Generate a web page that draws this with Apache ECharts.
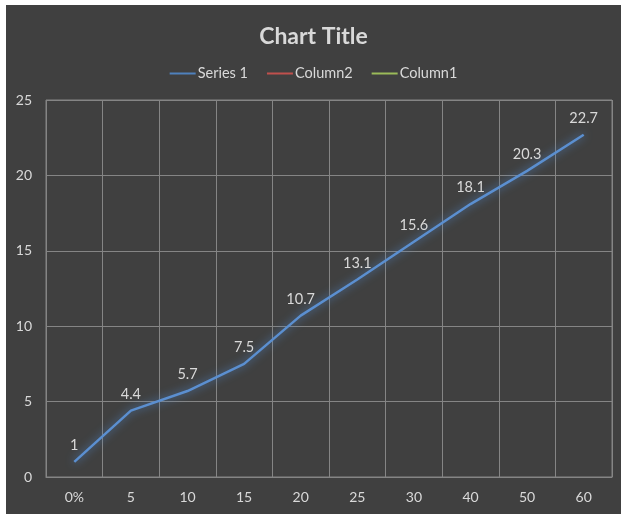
<!DOCTYPE html>
<html>
<head>
<meta charset="utf-8">
<script src="https://cdn.jsdelivr.net/npm/echarts@6/dist/echarts.min.js"></script>
<style>
  html, body { margin: 0; padding: 0; background: #ffffff; }
  #chart { position: absolute; left: 6px; top: 5px; width: 615px; height: 509px; background: #404040; }
</style>
</head>
<body>
<div id="chart"></div>
<script>
// Category labels along the horizontal axis
const categories = ['0%', '5', '10', '15', '20', '25', '30', '40', '50', '60'];
// Values of the plotted series
const series1 = [1, 4.4, 5.7, 7.5, 10.7, 13.1, 15.6, 18.1, 20.3, 22.7];
// Legend-only series with no values
const column2 = [];
const column1 = [];

const textColor = '#d9d9d9';
const gridColor = '#858585';
const font = 'Lato, "Open Sans", sans-serif';

const chart = echarts.init(document.getElementById('chart'), null, { renderer: 'canvas' });
chart.setOption({
  animation: false,
  title: {
    text: 'Chart Title',
    left: 'center',
    top: 15,
    textStyle: { color: textColor, fontSize: 23, fontWeight: 'bold', fontFamily: font }
  },
  legend: {
    top: 56,
    left: 'center',
    itemWidth: 26,
    itemHeight: 2,
    itemGap: 19,
    icon: 'rect',
    textStyle: { color: textColor, fontSize: 14.5, fontFamily: font, padding: [0, 0, 0, -3] },
    data: [
      { name: 'Series 1', itemStyle: { color: '#4f81bd', opacity: 1 } },
      { name: 'Column2', itemStyle: { color: '#c0504d', opacity: 1 } },
      { name: 'Column1', itemStyle: { color: '#9bbb59', opacity: 1 } }
    ]
  },
  grid: { left: 40, right: 9, top: 95, bottom: 37, containLabel: false, show: true, borderColor: gridColor, borderWidth: 1 },
  xAxis: {
    type: 'category',
    data: categories,
    boundaryGap: true,
    axisLine: { show: true, lineStyle: { color: gridColor } },
    axisTick: { show: false },
    splitLine: { show: true, lineStyle: { color: gridColor } },
    axisLabel: { color: textColor, fontSize: 14, fontFamily: font, margin: 13 }
  },
  yAxis: {
    type: 'value',
    min: 0,
    max: 25,
    interval: 5,
    axisLine: { show: false },
    axisTick: { show: false },
    splitLine: { show: true, lineStyle: { color: gridColor } },
    axisLabel: { color: textColor, fontSize: 14, fontFamily: font, margin: 14 }
  },
  series: [
    {
      name: 'Series 1',
      type: 'line',
      data: series1,
      symbol: 'circle',
      symbolSize: 0,
      showSymbol: true,
      color: '#4f81bd',
      lineStyle: { width: 2.5, color: '#5b8fd0', shadowColor: 'rgba(79,129,189,1)', shadowBlur: 8 },
      label: { show: true, position: 'top', distance: 9, color: textColor, fontSize: 14.5, fontFamily: font }
    },
    { name: 'Column2', type: 'line', data: column2, color: '#c0504d', symbol: 'none', lineStyle: { width: 2 } },
    { name: 'Column1', type: 'line', data: column1, color: '#9bbb59', symbol: 'none', lineStyle: { width: 2 } }
  ]
});
</script>
</body>
</html>
